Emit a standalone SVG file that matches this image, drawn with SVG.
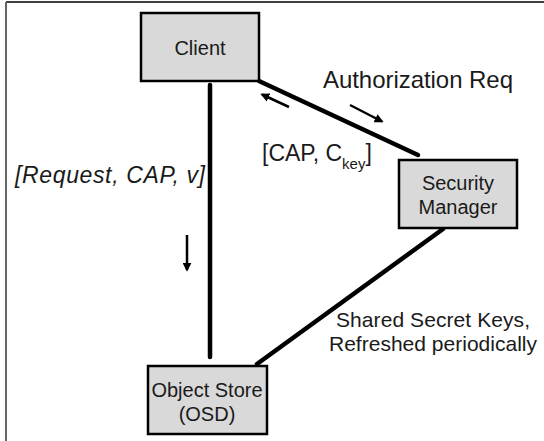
<svg xmlns="http://www.w3.org/2000/svg" width="544" height="441" viewBox="0 0 544 441">
<style>
.box{fill:#d9d9d9;stroke:#000;stroke-width:2.5}
.t{font-family:"Liberation Sans",Arial,sans-serif;fill:#1a1a1a}
.c{stroke:#000;stroke-width:4.5;fill:none;stroke-linecap:round}
.a{stroke:#000;stroke-width:2.5;fill:none}
</style>
<defs>
<marker id="ah" viewBox="0 0 10 10" refX="8" refY="5" markerWidth="3.6" markerHeight="3.6" orient="auto" markerUnits="strokeWidth">
<path d="M0,0 L10,5 L0,10 z" fill="#000"/>
</marker>
</defs>
<rect width="544" height="441" fill="#fff"/>
<line x1="6" y1="2" x2="544" y2="2" stroke="#000" stroke-width="1.5"/>
<line x1="6" y1="2" x2="6" y2="441" stroke="#666" stroke-width="2"/>
<g id="connectors">
<line class="c" x1="210" y1="85" x2="210" y2="357"/>
<line class="c" x1="259" y1="81" x2="418" y2="155"/>
<line class="c" x1="443" y1="229" x2="257" y2="364"/>
<line class="a" x1="289" y1="107" x2="262" y2="94.5" marker-end="url(#ah)"/>
<line class="a" x1="350" y1="105" x2="382" y2="121.5" marker-end="url(#ah)"/>
<line class="a" x1="187" y1="235" x2="187" y2="270" marker-end="url(#ah)"/>
</g>
<g id="labels">
<text class="t" x="323" y="88" font-size="24" textLength="190">Authorization Req</text>
<text class="t" x="262" y="161" font-size="23">[CAP, C<tspan font-size="15" dy="8">key</tspan><tspan dy="-8">]</tspan></text>
<text class="t" x="15" y="183" font-size="23" font-style="italic" textLength="190">[Request, CAP, v]</text>
<text class="t" x="336" y="327" font-size="21" textLength="194">Shared Secret Keys,</text>
<text class="t" x="329" y="351" font-size="21" textLength="208">Refreshed periodically</text>
</g>
<g id="client">
<rect class="box" x="141" y="13" width="118" height="68"/>
<text class="t" x="200" y="55" font-size="20" text-anchor="middle">Client</text>
</g>
<g id="security-manager">
<rect class="box" x="399" y="160" width="118" height="68"/>
<text class="t" x="458" y="190" font-size="20" text-anchor="middle">Security</text>
<text class="t" x="458" y="214" font-size="20" text-anchor="middle">Manager</text>
</g>
<g id="object-store">
<rect class="box" x="148" y="366" width="119" height="68"/>
<text class="t" x="207" y="397" font-size="20" text-anchor="middle">Object Store</text>
<text class="t" x="207" y="421" font-size="20" text-anchor="middle">(OSD)</text>
</g>
</svg>
